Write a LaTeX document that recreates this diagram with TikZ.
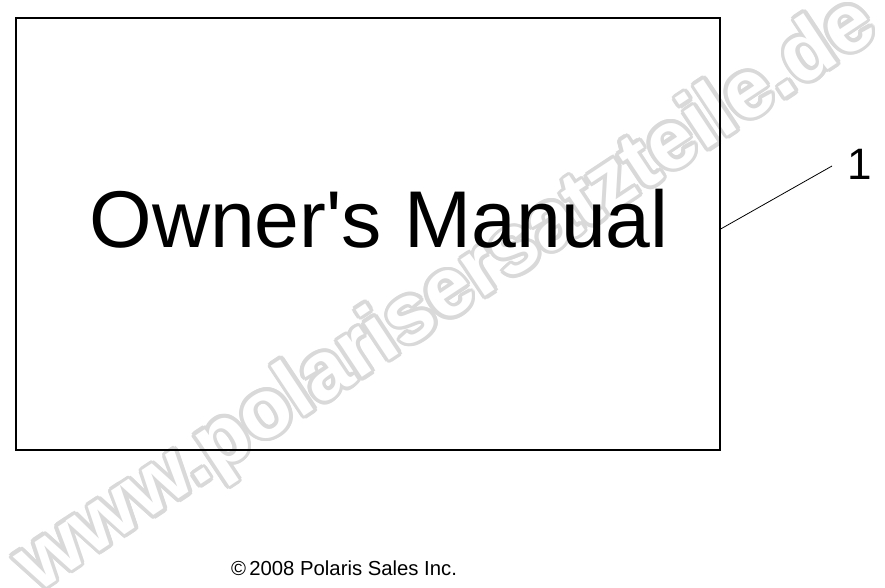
\documentclass[tikz,border=0pt]{standalone}
\usepackage{fontspec}
\setmainfont{Liberation Sans}
\usetikzlibrary{positioning}

\tikzset{
	mark text/.style={font=\bfseries\fontsize{83}{83}\selectfont, inner sep=0pt, rotate=33.5},
	label text/.style={inner sep=0pt},
}

\begin{document}
\begin{tikzpicture}[x=1pt, y=-1pt]
	\useasboundingbox (0,0) rectangle (885,588);

	% watermark
	\foreach \a in {0,22.5,...,337.5} {
		\node[mark text, text=black!15] at ([shift={(\a:3.6pt)}]447,296) {www.polarisersatzteile.de};
	}
	\node[mark text, text=white] (W) at (447,296) {www.polarisersatzteile.de};

	\node[draw, line width=1.3pt, minimum width=704pt, minimum height=432pt, inner sep=0pt] (Box) at (368,234) {};
	\node[label text, font=\fontsize{80.5}{80.5}\selectfont, anchor=base] (T) at (379,247) {Owner\textquotesingle s Manual};

	\node[label text, font=\fontsize{44}{44}\selectfont] (N) at (860,164) {1};
	\coordinate (P) at (832,166);
	\draw[line width=0.8pt] (Box.east |- 0,229) -- (P);

	\node[label text, font=\fontsize{20.3}{20.3}\selectfont, anchor=base] (C) at (344,575) {\textcopyright\,2008 Polaris Sales Inc.};
\end{tikzpicture}
\end{document}
